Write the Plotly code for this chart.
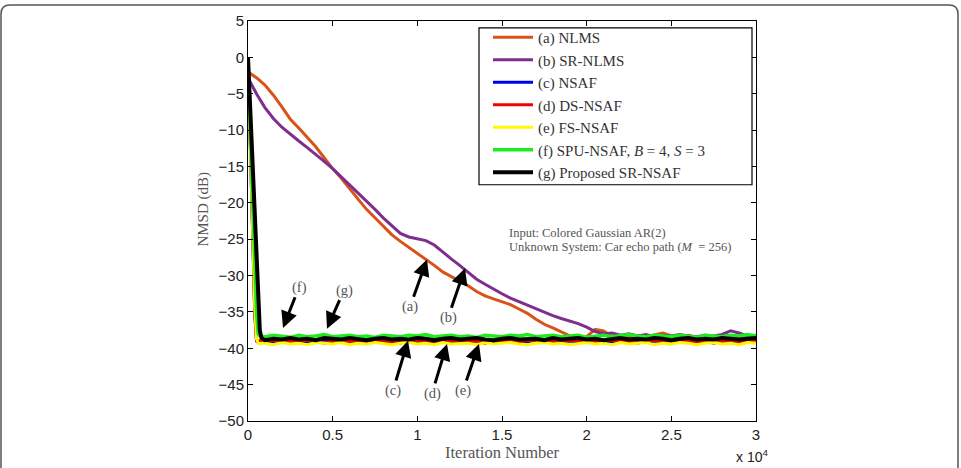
import plotly.graph_objects as go

# ---------------- data ----------------
iters_slow = list(range(0, 30001, 500))
nlms = [-2.0, -2.8, -3.8, -5.2, -6.8, -8.5, -9.7, -11.0, -12.3, -13.8,
        -15.3, -16.6, -18.1, -19.5, -20.9, -22.1, -23.3, -24.4, -25.3, -26.1,
        -27.0, -27.7, -28.6, -29.5, -30.1, -30.8, -31.4, -32.2, -32.8, -33.2,
        -33.6, -34.0, -34.6, -35.2, -36.0, -36.7, -37.2, -37.7, -38.3, -38.6,
        -38.4, -37.4, -37.6, -38.4, -38.2, -38.5, -38.3, -38.4, -38.2, -37.9,
        -38.3, -38.4, -38.2, -38.5, -38.3, -38.4, -38.3, -38.5, -38.3, -38.4,
        -38.3]
sr_nlms = [-2.8, -5.0, -6.9, -8.4, -9.6, -10.6, -11.5, -12.4, -13.3, -14.3,
           -15.3, -16.4, -17.5, -18.6, -19.7, -20.9, -22.1, -23.2, -24.2, -24.7,
           -25.0, -25.2, -25.8, -26.8, -27.7, -28.6, -29.6, -30.5, -31.2, -31.9,
           -32.5, -33.1, -33.6, -34.1, -34.6, -35.1, -35.5, -35.9, -36.2, -36.6,
           -37.1, -37.7, -38.0, -37.9, -38.2, -38.0, -38.3, -38.1, -38.4, -38.2,
           -38.3, -38.1, -38.3, -38.4, -38.2, -38.3, -38.1, -37.6, -37.9, -38.3,
           -38.2]

iters_fast = [0, 100, 200, 300, 400, 500, 600, 700, 800] + list(range(1000, 30001, 500))
nsaf = [0.0, -9.3, -18.6, -27.6, -35.4, -39.0, -39.2, -39.1, -39.0,
        -39.0, -39.1, -38.9, -39.2, -39.0, -39.1, -39.0, -38.9, -39.2, -39.1,
        -39.0, -38.9, -39.1, -39.2, -39.0, -39.1, -38.9, -39.0, -39.2, -39.0,
        -39.1, -38.9, -39.0, -39.2, -39.1, -39.0, -38.9, -39.1, -39.0, -39.2,
        -39.0, -39.1, -38.9, -39.0, -39.2, -39.1, -39.0, -39.1, -38.9, -39.0,
        -39.2, -39.1, -39.0, -38.9, -39.1, -39.2, -39.0, -39.1, -38.9, -39.0,
        -39.1, -39.0, -39.2, -38.9, -39.1, -39.0, -39.2, -39.0, -39.1]
ds_nsaf = [0.0, -9.0, -18.2, -27.0, -35.0, -38.8, -39.1, -39.0, -39.1,
           -39.1, -38.9, -39.2, -39.0, -39.1, -38.9, -39.0, -39.3, -39.0, -38.9,
           -39.1, -39.0, -39.2, -38.9, -39.0, -39.1, -39.3, -39.0, -38.9, -39.1,
           -39.0, -39.2, -38.9, -39.1, -39.0, -39.0, -39.3, -38.9, -39.1, -39.0,
           -39.2, -38.9, -39.0, -39.1, -39.0, -39.3, -38.9, -39.0, -39.1, -39.2,
           -39.0, -38.9, -39.1, -39.0, -39.3, -39.0, -38.9, -39.1, -39.0, -39.2,
           -38.9, -39.1, -39.0, -39.3, -39.0, -38.9, -39.1, -39.0, -39.1]
fs_nsaf = [0.0, -8.6, -17.4, -26.2, -34.4, -38.7, -39.3, -39.4, -39.3,
           -39.3, -39.5, -39.2, -39.4, -39.3, -39.5, -39.2, -39.3, -39.4, -39.2,
           -39.5, -39.3, -39.4, -39.2, -39.3, -39.5, -39.3, -39.2, -39.4, -39.3,
           -39.5, -39.2, -39.4, -39.3, -39.3, -39.5, -39.2, -39.4, -39.3, -39.2,
           -39.4, -39.5, -39.3, -39.2, -39.4, -39.3, -39.5, -39.3, -39.2, -39.4,
           -39.3, -39.5, -39.2, -39.4, -39.3, -39.2, -39.5, -39.3, -39.4, -39.2,
           -39.3, -39.5, -39.3, -39.2, -39.4, -39.3, -39.5, -39.2, -39.3]
spu_nsaf = [-0.5, -7.5, -14.8, -22.0, -29.0, -35.0, -38.0, -38.3, -38.4,
            -38.4, -38.2, -38.3, -38.5, -38.2, -38.4, -38.3, -38.1, -38.4, -38.3,
            -38.2, -38.4, -38.3, -38.5, -38.2, -38.3, -38.4, -38.2, -38.3, -38.1,
            -38.4, -38.3, -38.2, -38.4, -38.3, -38.5, -38.2, -38.3, -38.4, -38.2,
            -38.3, -38.1, -38.4, -38.3, -38.2, -38.4, -38.3, -38.2, -38.5, -38.3,
            -38.2, -38.4, -38.3, -38.1, -38.3, -38.4, -38.2, -38.3, -38.4, -38.2,
            -38.3, -38.5, -38.2, -38.3, -38.4, -38.2, -38.3, -38.1, -38.3]
sr_nsaf = [0.0, -5.5, -11.0, -16.8, -22.6, -28.4, -33.8, -37.6, -38.6,
           -38.9, -38.7, -38.8, -38.6, -38.8, -38.7, -38.9, -38.6, -38.7, -38.8,
           -38.6, -38.7, -38.9, -38.7, -38.6, -38.8, -38.7, -38.8, -38.6, -38.7,
           -38.9, -38.7, -38.6, -38.8, -38.7, -38.6, -38.8, -38.9, -38.7, -38.6,
           -38.8, -38.7, -38.7, -38.9, -38.6, -38.8, -38.7, -38.6, -38.8, -38.7,
           -38.9, -38.7, -38.6, -38.8, -38.7, -38.8, -38.6, -38.7, -38.9, -38.7,
           -38.6, -38.8, -38.7, -38.8, -38.6, -38.7, -38.8, -38.7, -38.6]

series_names = ["(a) NLMS", "(b) SR-NLMS", "(c) NSAF", "(d) DS-NSAF", "(e) FS-NSAF",
                "(f) SPU-NSAF, <i>B</i> = 4, <i>S</i> = 3", "(g) Proposed SR-NSAF"]
x_tickvals = [0, 5000, 10000, 15000, 20000, 25000, 30000]
x_ticktext = ["0", "0.5", "1", "1.5", "2", "2.5", "3"]
y_tickvals = [5, 0, -5, -10, -15, -20, -25, -30, -35, -40, -45, -50]

# ---------------- figure ----------------
SERIF = "Liberation Serif"
SANS = "Liberation Sans"


def px_x(p):
    return (p - 248) / 508


def px_y(p):
    return (421 - p) / 403


fig = go.Figure()
traces = [
    (iters_slow, nlms, "rgb(217,83,25)", 3),
    (iters_slow, sr_nlms, "rgb(126,47,142)", 3),
    (iters_fast, nsaf, "rgb(0,0,240)", 3),
    (iters_fast, ds_nsaf, "rgb(245,0,0)", 3),
    (iters_fast, fs_nsaf, "rgb(255,250,0)", 3),
    (iters_fast, spu_nsaf, "rgb(30,235,30)", 3.5),
    (iters_fast, sr_nsaf, "rgb(0,0,0)", 4),
]
for (xs, ys, col, w), name in zip(traces, series_names):
    fig.add_trace(go.Scatter(x=xs, y=ys, mode="lines", name=name,
                             line=dict(color=col, width=w)))

annos = []
# arrow annotations: (label, tip x, tip y, label x, label y)
arrows = [
    ("(a)", 10571, -27.8, 9567, -34.3),
    ("(b)", 12815, -29.0, 11811, -35.8),
    ("(c)", 9449, -38.95, 8563, -45.8),
    ("(d)", 11752, -39.4, 10866, -46.2),
    ("(e)", 13642, -39.4, 12697, -45.8),
    ("(f)", 2067, -37.2, 3012, -31.6),
    ("(g)", 4665, -37.3, 5669, -32.0),
]
for lab, tx, ty, lx, ly in arrows:
    annos.append(dict(x=tx, y=ty, xref="x", yref="y", ax=lx, ay=ly,
                      axref="x", ayref="y", text=lab, showarrow=True,
                      arrowhead=2, arrowsize=1.1, arrowwidth=3, arrowcolor="black",
                      font=dict(family=SERIF, size=14.5, color="#555")))

annos += [
    dict(x=px_x(507), y=px_y(231.5), xref="paper", yref="paper", xanchor="left",
         yanchor="middle", showarrow=False, text="Input: Colored Gaussian AR(2)",
         font=dict(family=SERIF, size=12.5, color="#555")),
    dict(x=px_x(507), y=px_y(245.5), xref="paper", yref="paper", xanchor="left",
         yanchor="middle", showarrow=False,
         text="Unknown System: Car echo path (<i>M</i>  = 256)",
         font=dict(family=SERIF, size=12.5, color="#555")),
    dict(x=0.5, y=px_y(453), xref="paper", yref="paper", xanchor="center",
         yanchor="middle", showarrow=False, text="Iteration Number",
         font=dict(family=SERIF, size=16.5, color="#555")),
    dict(x=px_x(204), y=px_y(208), xref="paper", yref="paper",
         xanchor="center", yanchor="middle", showarrow=False, text="NMSD (dB)",
         textangle=-90, font=dict(family=SERIF, size=15, color="#555")),
    dict(x=px_x(752), y=px_y(456), xref="paper", yref="paper", xanchor="center",
         yanchor="middle", showarrow=False, text="x 10<sup>4</sup>",
         font=dict(family=SANS, size=14, color="#222")),
]

# rounded outer frame (paper coordinates)
L, R, T, B = px_x(1), px_x(958), px_y(2), px_y(490)
rx, ry = 9 / 508, 9 / 403
frame_path = (f"M {L},{B} L {L},{T-ry} Q {L},{T} {L+rx},{T} L {R-rx},{T} "
              f"Q {R},{T} {R},{T-ry} L {R},{B}")

shapes = [
    dict(type="path", xref="paper", yref="paper", path=frame_path,
         line=dict(color="#555", width=1.5)),
    # legend box
    dict(type="rect", xref="paper", yref="paper", layer="above",
         x0=px_x(479), x1=px_x(752), y0=px_y(183), y1=px_y(25),
         fillcolor="white", line=dict(color="black", width=1.2)),
]

fig.update_layout(
    width=961, height=468,
    margin=dict(l=248, r=205, t=18, b=47),
    paper_bgcolor="white", plot_bgcolor="white",
    showlegend=True,
    legend=dict(x=px_x(488), y=px_y(18), xanchor="left", yanchor="top",
                bgcolor="rgba(0,0,0,0)", borderwidth=0,
                font=dict(family=SERIF, size=15, color="#333"),
                tracegroupgap=0, itemwidth=40),
    annotations=annos,
    shapes=shapes,
    xaxis=dict(range=[0, 30000], tickvals=x_tickvals, ticktext=x_ticktext,
               ticks="inside", ticklen=5, tickcolor="black", mirror="ticks",
               showline=True, linecolor="black", linewidth=1, showgrid=False,
               zeroline=False, tickfont=dict(family=SANS, size=15, color="#222")),
    yaxis=dict(range=[-50, 5], tickvals=y_tickvals,
               ticks="inside", ticklen=5, tickcolor="black", mirror="ticks",
               showline=True, linecolor="black", linewidth=1, showgrid=False,
               zeroline=False, tickfont=dict(family=SANS, size=15, color="#222")),
)

fig.write_html("out.html")
